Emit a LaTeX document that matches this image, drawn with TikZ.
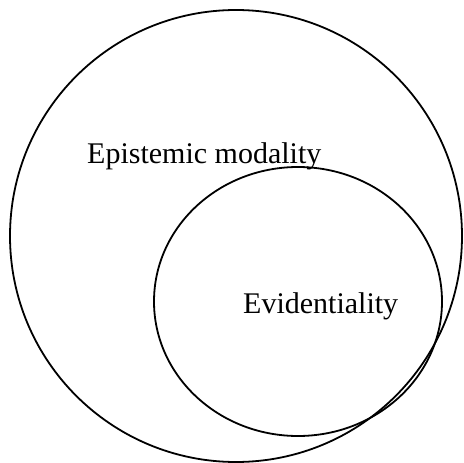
\documentclass[tikz,border=0pt]{standalone}
\usepackage{fontspec}
\setmainfont{Liberation Serif}
\usepackage{tikz}

\begin{document}
\begin{tikzpicture}[x=1pt,y=-1pt]
    \useasboundingbox (0,0) rectangle (464,463);

    % Centres of the two sets
    \coordinate (O) at (236,236);
    \coordinate (P) at (298,301.5);

    % Draw the sets
    \draw[line width=1.8pt] (O) ellipse [x radius=226, y radius=226];
    \draw[line width=1.8pt] (P) ellipse [x radius=144, y radius=134.5];

    % Labels
    \node[anchor=base west, inner sep=0pt, font=\fontsize{30}{36}\selectfont] (epi) at (87,163) {Epistemic modality};
    \node[anchor=base west, inner sep=0pt, font=\fontsize{30}{36}\selectfont] (evi) at (243,313) {Evidentiality};
\end{tikzpicture}
\end{document}
